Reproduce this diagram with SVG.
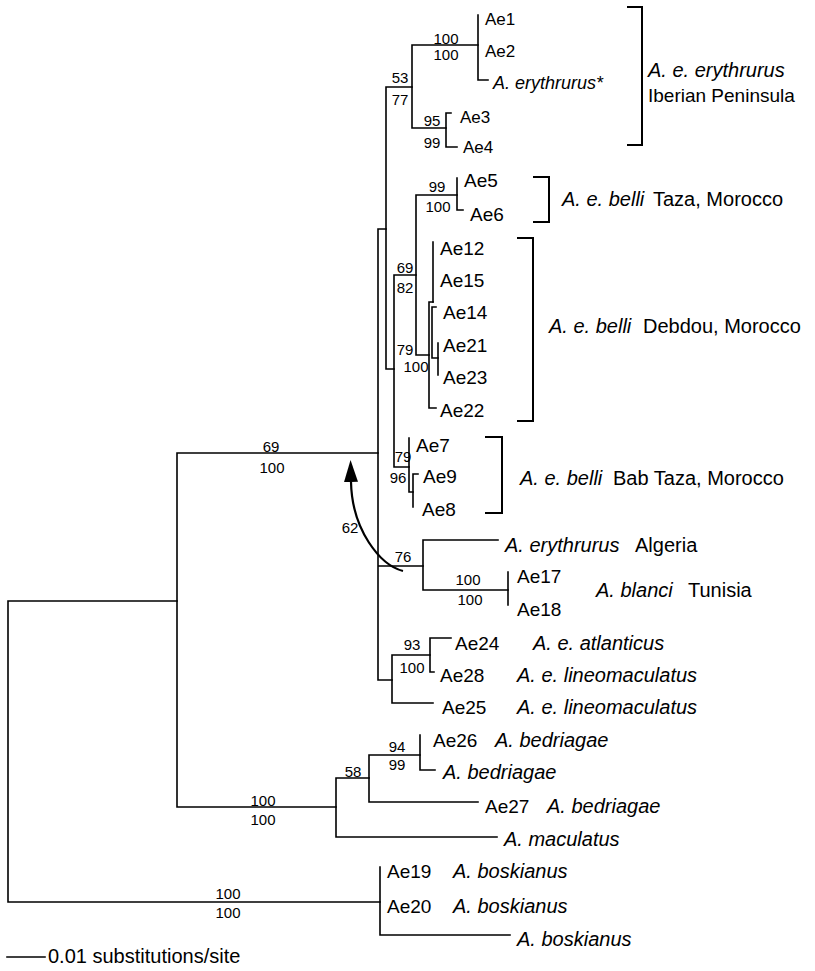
<svg xmlns="http://www.w3.org/2000/svg" width="815" height="971" viewBox="0 0 815 971">
<style>
.br{stroke:#000;stroke-width:1.6;fill:none;stroke-linecap:square}
.bk{stroke:#000;stroke-width:2;fill:none}
text{font-family:"Liberation Sans",Arial,Helvetica,sans-serif;fill:#000}
.t{font-size:19px}
.ts{font-size:17px}
.sp{font-size:20px}
.i{font-style:italic}
.b{font-size:15px;text-anchor:middle}
</style>
<defs>
<marker id="ah" viewBox="0 0 22 14" refX="0" refY="7" markerWidth="22" markerHeight="14" markerUnits="userSpaceOnUse" orient="auto">
<path d="M0,0 L22,7 L0,14 z" fill="#000"/>
</marker>
</defs>
<rect width="815" height="971" fill="#fff"/>
<g id="connectors">
<path class="br" d="M8,601 V902 M8,601 H177 M8,902 H380"/>
<path class="br" d="M177,453 V807 M177,453 H378 M177,807 H336"/>
<path class="br" d="M378,229 V680 M378,229 H386 M378,566 H423 M378,680 H392"/>
<path class="br" d="M386,87 V369 M386,87 H412 M386,369 H394"/>
<path class="br" d="M412,45 V128 M412,45 H478 M412,128 H446"/>
<path class="br" d="M478,15 V80 M478,80 H488"/>
<path class="br" d="M446,113 V147 M446,113 H451 M446,147 H457"/>
<path class="br" d="M394,275 V467 M394,275 H416 M394,467 H409"/>
<path class="br" d="M416,195 V355 M416,195 H457 M416,355 H429"/>
<path class="br" d="M457,178 V210 M457,210 H463"/>
<path class="br" d="M429,302 V408 M429,302 H433 M429,408 H436"/>
<path class="br" d="M433,242 V302"/>
<path class="br" d="M432,307 V358 M432,307 H436 M432,358 H438"/>
<path class="br" d="M438,343 V375"/>
<path class="br" d="M409,438 V492 M409,492 H413"/>
<path class="br" d="M413,474 V507 M413,474 H418"/>
<path class="br" d="M423,540 V590 M423,540 H498 M423,590 H508"/>
<path class="br" d="M508,572 V605"/>
<path class="br" d="M392,655 V703 M392,655 H430 M392,703 H433"/>
<path class="br" d="M430,638 V672 M430,638 H451 M430,672 H434"/>
<path class="br" d="M336,778 V837 M336,778 H369 M336,837 H497"/>
<path class="br" d="M369,755 V802 M369,755 H420 M369,802 H478"/>
<path class="br" d="M420,735 V770 M420,770 H435"/>
<path class="br" d="M380,867 V935 M380,935 H510"/>
<path d="M403,571 C380,565 352,530 351,482" stroke="#000" stroke-width="2.2" fill="none" marker-end="url(#ah)"/>
<path class="br" d="M7,957 H45"/>
</g>
<g id="brackets">
<path class="bk" d="M627,7 H642 V145 H627"/>
<path class="bk" d="M533,177 H549 V222 H533"/>
<path class="bk" d="M517,238 H533 V421 H517"/>
<path class="bk" d="M485,437 H502 V513 H485"/>
</g>
<g id="bootstrap">
<text class="b" x="446" y="44">100</text>
<text class="b" x="446" y="60">100</text>
<text class="b" x="400" y="83">53</text>
<text class="b" x="400" y="105">77</text>
<text class="b" x="432" y="126">95</text>
<text class="b" x="432" y="148">99</text>
<text class="b" x="437" y="192">99</text>
<text class="b" x="438" y="212">100</text>
<text class="b" x="405" y="273">69</text>
<text class="b" x="405" y="293">82</text>
<text class="b" x="405" y="355">79</text>
<text class="b" x="416" y="372">100</text>
<text class="b" x="403" y="462">79</text>
<text class="b" x="398" y="483">96</text>
<text class="b" x="271" y="452">69</text>
<text class="b" x="272" y="473">100</text>
<text class="b" x="350" y="533">62</text>
<text class="b" x="403" y="562">76</text>
<text class="b" x="468" y="585">100</text>
<text class="b" x="470" y="605">100</text>
<text class="b" x="412" y="650">93</text>
<text class="b" x="412" y="673">100</text>
<text class="b" x="397" y="752">94</text>
<text class="b" x="397" y="770">99</text>
<text class="b" x="353" y="777">58</text>
<text class="b" x="263" y="806">100</text>
<text class="b" x="263" y="825">100</text>
<text class="b" x="228" y="899">100</text>
<text class="b" x="228" y="918">100</text>
</g>
<g id="leaf-Ae1"><text class="ts" x="485" y="25">Ae1</text></g>
<g id="leaf-Ae2"><text class="ts" x="485" y="57">Ae2</text></g>
<g id="leaf-Aerythrurus-star"><text class="i" style="font-size:18px" x="493" y="89">A. erythrurus*</text></g>
<g id="leaf-Ae3"><text class="ts" x="460" y="123">Ae3</text></g>
<g id="leaf-Ae4"><text class="ts" x="463" y="153">Ae4</text></g>
<g id="leaf-Ae5"><text class="t" x="464" y="187">Ae5</text></g>
<g id="leaf-Ae6"><text class="t" x="470" y="221">Ae6</text></g>
<g id="leaf-Ae12"><text class="t" x="440" y="255">Ae12</text></g>
<g id="leaf-Ae15"><text class="t" x="440" y="287">Ae15</text></g>
<g id="leaf-Ae14"><text class="t" x="443" y="319">Ae14</text></g>
<g id="leaf-Ae21"><text class="t" x="443" y="352">Ae21</text></g>
<g id="leaf-Ae23"><text class="t" x="443" y="384">Ae23</text></g>
<g id="leaf-Ae22"><text class="t" x="440" y="417">Ae22</text></g>
<g id="leaf-Ae7"><text class="t" x="416" y="452">Ae7</text></g>
<g id="leaf-Ae9"><text class="t" x="423" y="483">Ae9</text></g>
<g id="leaf-Ae8"><text class="t" x="422" y="516">Ae8</text></g>
<g id="leaf-Algeria"><text class="sp" x="505" y="552"><tspan class="i">A. erythrurus</tspan><tspan x="635">Algeria</tspan></text></g>
<g id="leaf-Ae17"><text class="t" x="517" y="583">Ae17</text></g>
<g id="leaf-Ae18"><text class="t" x="517" y="616">Ae18</text></g>
<g id="leaf-Ae24"><text class="t" x="455" y="650">Ae24</text><text class="sp i" x="533" y="650">A. e. atlanticus</text></g>
<g id="leaf-Ae28"><text class="t" x="440" y="682">Ae28</text><text class="sp i" x="517" y="682">A. e. lineomaculatus</text></g>
<g id="leaf-Ae25"><text class="t" x="442" y="714">Ae25</text><text class="sp i" x="517" y="714">A. e. lineomaculatus</text></g>
<g id="leaf-Ae26"><text class="t" x="433" y="747">Ae26</text><text class="sp i" x="495" y="747">A. bedriagae</text></g>
<g id="leaf-bedriagae"><text class="sp i" x="443" y="779">A. bedriagae</text></g>
<g id="leaf-Ae27"><text class="t" x="485" y="813">Ae27</text><text class="sp i" x="547" y="813">A. bedriagae</text></g>
<g id="leaf-maculatus"><text class="sp i" x="504" y="846">A. maculatus</text></g>
<g id="leaf-Ae19"><text class="t" x="387" y="878">Ae19</text><text class="sp i" x="453" y="878">A. boskianus</text></g>
<g id="leaf-Ae20"><text class="t" x="387" y="913">Ae20</text><text class="sp i" x="453" y="913">A. boskianus</text></g>
<g id="leaf-boskianus"><text class="sp i" x="517" y="946">A. boskianus</text></g>
<g id="clade-iberian"><text class="sp i" x="648" y="77">A. e. erythrurus</text><text style="font-size:19px" x="648" y="102">Iberian Peninsula</text></g>
<g id="clade-taza"><text class="sp" x="562" y="206"><tspan class="i">A. e. belli</tspan><tspan x="653">Taza, Morocco</tspan></text></g>
<g id="clade-debdou"><text class="sp" x="549" y="333"><tspan class="i">A. e. belli</tspan><tspan x="643">Debdou, Morocco</tspan></text></g>
<g id="clade-babtaza"><text class="sp" x="520" y="485"><tspan class="i">A. e. belli</tspan><tspan x="613">Bab Taza, Morocco</tspan></text></g>
<g id="clade-blanci"><text class="sp" x="596" y="597"><tspan class="i">A. blanci</tspan><tspan x="688">Tunisia</tspan></text></g>
<g id="scale"><text class="sp" x="48" y="963">0.01 substitutions/site</text></g>
</svg>
